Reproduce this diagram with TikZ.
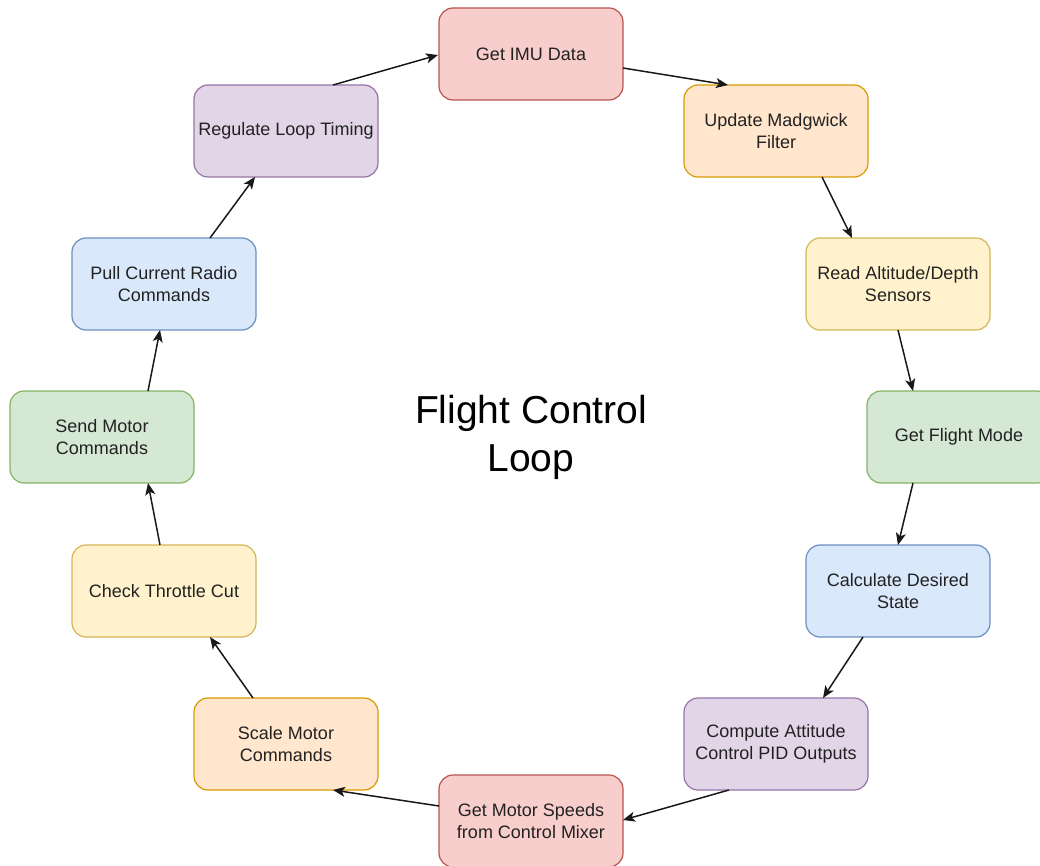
\documentclass[tikz,border=0pt]{standalone}
\usepackage{fontspec}
\setmainfont{Liberation Sans}
\usetikzlibrary{arrows.meta,calc}

\definecolor{redF}{HTML}{F8CECC}\definecolor{redS}{HTML}{B85450}
\definecolor{orgF}{HTML}{FFE6CC}\definecolor{orgS}{HTML}{D79B00}
\definecolor{yelF}{HTML}{FFF2CC}\definecolor{yelS}{HTML}{D6B656}
\definecolor{grnF}{HTML}{D5E8D4}\definecolor{grnS}{HTML}{82B366}
\definecolor{bluF}{HTML}{DAE8FC}\definecolor{bluS}{HTML}{6C8EBF}
\definecolor{purF}{HTML}{E1D5E7}\definecolor{purS}{HTML}{9673A6}
\definecolor{txt}{HTML}{222222}

\tikzset{
  stepbox/.style={draw, rounded corners=14pt, line width=1.2pt,
    minimum width=184pt, minimum height=92pt, inner sep=0pt,
    align=center, text=txt,
    font=\fontsize{18}{22}\selectfont},
  redbox/.style={stepbox, fill=redF, draw=redS},
  orgbox/.style={stepbox, fill=orgF, draw=orgS},
  yelbox/.style={stepbox, fill=yelF, draw=yelS},
  grnbox/.style={stepbox, fill=grnF, draw=grnS},
  blubox/.style={stepbox, fill=bluF, draw=bluS},
  purbox/.style={stepbox, fill=purF, draw=purS},
  flow/.style={line width=1.5pt, draw=black!90,
    -{Stealth[length=12pt, width=10pt, inset=3pt]}},
}

\begin{document}
\begin{tikzpicture}[x=1pt, y=-1pt]
  \useasboundingbox (0,0) rectangle (1040,866);
  \clip (0,0) rectangle (1040,866);

  % loop steps
  \node[redbox] (imu)   at (531,54)  {Get IMU Data};
  \node[orgbox] (madg)  at (776,131) {Update Madgwick\\Filter};
  \node[yelbox] (alt)   at (898,284) {Read Altitude/Depth\\Sensors};
  \node[grnbox] (mode)  at (959,437) {Get Flight Mode};
  \node[blubox] (des)   at (898,591) {Calculate Desired\\State};
  \node[purbox] (pid)   at (776,744) {Compute Attitude\\Control PID Outputs};
  \node[redbox] (mix)   at (531,821) {Get Motor Speeds\\from Control Mixer};
  \node[orgbox] (scale) at (286,744) {Scale Motor\\Commands};
  \node[yelbox] (cut)   at (164,591) {Check Throttle Cut};
  \node[grnbox] (send)  at (102,437) {Send Motor\\Commands};
  \node[blubox] (radio) at (164,284) {Pull Current Radio\\Commands};
  \node[purbox] (timing) at (286,131) {Regulate Loop Timing};

  % title in the middle of the loop
  \node[align=center, font=\fontsize{39}{48}\selectfont] (title) at (531,437)
    {Flight Control\\Loop};

  % connectors around the loop
  \draw[flow] ($(imu.center)+(92,14)$)    -- ($(madg.center)+(-48,-46)$);
  \draw[flow] ($(madg.center)+(46,46)$)   -- ($(alt.center)+(-46,-46)$);
  \draw[flow] ($(alt.center)+(0,46)$)     -- ($(mode.center)+(-46,-46)$);
  \draw[flow] ($(mode.center)+(-46,46)$)  -- ($(des.center)+(0,-46)$);
  \draw[flow] ($(des.center)+(-35,46)$)   -- ($(pid.center)+(47,-46)$);
  \draw[flow] ($(pid.center)+(-47,46)$)   -- ($(mix.center)+(92,-1)$);
  \draw[flow] ($(mix.center)+(-92,-15)$)  -- ($(scale.center)+(47,46)$);
  \draw[flow] ($(scale.center)+(-33,-46)$) -- ($(cut.center)+(46,46)$);
  \draw[flow] ($(cut.center)+(-4,-46)$)   -- ($(send.center)+(46,46)$);
  \draw[flow] ($(send.center)+(46,-46)$)  -- ($(radio.center)+(-4,46)$);
  \draw[flow] ($(radio.center)+(46,-46)$) -- ($(timing.center)+(-31,46)$);
  \draw[flow] ($(timing.center)+(47,-46)$) -- ($(imu.center)+(-93,1)$);
\end{tikzpicture}
\end{document}
